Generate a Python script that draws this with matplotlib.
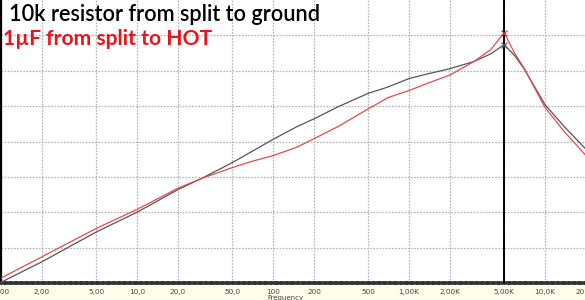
import matplotlib
matplotlib.use("Agg")
import matplotlib.pyplot as plt
from matplotlib.ticker import FixedLocator, FixedFormatter, NullLocator

# ---- data ----
freq = [1, 2, 5, 10, 20, 30, 50, 70, 100, 150, 200, 300, 500, 700, 1000,
        1400, 2000, 3000, 4000, 5000, 6000, 7000, 10000, 14000, 20000]
resistor_db = [-39.9, -37.0, -32.8, -30.0, -26.8, -25.2, -23.0, -21.4, -19.7, -17.9,
               -16.8, -15.1, -13.2, -12.3, -11.1, -10.4, -9.7, -8.7, -7.6, -6.3,
               -7.9, -9.7, -14.8, -18.0, -21.1]
cap_db = [-39.3, -36.3, -32.3, -29.6, -26.6, -25.2, -23.7, -22.8, -22.0, -20.8,
          -19.6, -17.9, -15.4, -13.8, -12.8, -11.7, -10.6, -8.7, -7.0, -4.6,
          -7.6, -9.6, -15.2, -18.7, -22.0]
cursor_freq = 5000
tick_vals = [1, 2, 5, 10, 20, 50, 100, 200, 500, 1000, 2000, 5000, 10000, 20000]
tick_labels = ["1,00", "2,00", "5,00", "10,0", "20,0", "50,0", "100", "200", "500",
               "1,00K", "2,00K", "5,00K", "10,0K", "20,0K"]
ygrid = [-35, -30, -25, -20, -15, -10, -5]
title1 = "10k resistor from split to ground"
title2 = "1\u00b5F from split to HOT"

W, H = 585, 300
fig = plt.figure(figsize=(W / 100, H / 100), dpi=100)
fig.patch.set_facecolor("#fdfdea")
ax = fig.add_axes([1 / W, 17 / H, 585 / W, 283 / H])
ax.set_facecolor("white")
ax.set_xscale("log")
ax.set_xlim(1, 20000)
ax.set_ylim(-40, 0)

ax.xaxis.set_major_locator(FixedLocator(tick_vals))
ax.xaxis.set_major_formatter(FixedFormatter(tick_labels))
ax.xaxis.set_minor_locator(NullLocator())
ax.yaxis.set_major_locator(FixedLocator(ygrid))
ax.yaxis.set_minor_locator(NullLocator())
ax.tick_params(axis="x", length=0, pad=4, labelsize=5.2, labelcolor="#444444")
ax.tick_params(axis="y", length=0, labelleft=False)

ax.grid(True, which="major", color="#b0b0b0", linestyle=(0, (1.3, 1.2)), linewidth=0.9)

for s in ["top", "right"]:
    ax.spines[s].set_visible(False)
ax.spines["left"].set_color("black")
ax.spines["left"].set_linewidth(1.6)
ax.spines["bottom"].set_color("#333333")
ax.spines["bottom"].set_linewidth(2.6)
ax.spines["bottom"].set_linestyle((0, (1.0, 0.5)))

ax.axvline(cursor_freq, color="black", linewidth=1.4, zorder=4)

ax.plot(freq, resistor_db, color="#555555", linewidth=0.9, zorder=5)
ax.plot(freq, cap_db, color="#e04a50", linewidth=0.9, zorder=6)
i = freq.index(cursor_freq)
ax.plot([cursor_freq], [resistor_db[i]], marker="x", color="#555555", markersize=4,
        markeredgewidth=0.8, zorder=7)
ax.plot([cursor_freq], [cap_db[i]], marker="x", color="#c03030", markersize=4,
        markeredgewidth=0.8, zorder=7)

fig.text(285 / W, 1 - 298 / H, "Frequency", fontsize=5, color="#444444",
         ha="center", va="center")

fig.text(9 / W, 1 - 21 / H, title1, fontsize=15.7, family="Lato", weight="semibold",
         color="black", ha="left", va="baseline")
fig.text(3 / W, 1 - 45 / H, title2, fontsize=15.1, family="Lato", weight="bold",
         color="#e8141c", ha="left", va="baseline")

fig.savefig("out.png", dpi=100, facecolor=fig.get_facecolor())
